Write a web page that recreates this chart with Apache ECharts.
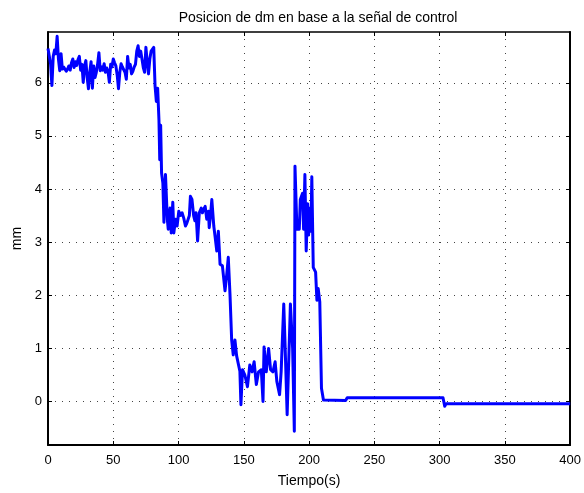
<!DOCTYPE html>
<html>
<head>
<meta charset="utf-8">
<script src="https://cdn.jsdelivr.net/npm/echarts@6/dist/echarts.min.js"></script>
<style>
  html, body { margin: 0; padding: 0; background: #fff; }
  #chart { width: 584px; height: 493px; }
</style>
</head>
<body>
<div id="chart"></div>
<script>
// Sample times (s) of the recorded position trace
const tiempo = [
  0, 1, 2, 3, 4, 5, 6, 7, 8, 9, 10, 11, 12, 13, 14, 15, 16, 17, 18, 19,
  20, 21, 22, 23, 24, 25, 26, 27, 28, 29, 30, 31, 32, 33, 34, 35, 36, 37, 38, 39,
  40, 41, 42, 43, 44, 45, 46, 47, 48, 49, 50, 51, 52, 53, 54, 55, 56, 57, 58, 59,
  60, 61, 62, 63, 64, 65, 66, 67, 68, 69, 70, 71, 72, 73, 74, 75, 76, 77, 78, 79,
  80, 81, 82, 83, 84, 85, 85.6, 86.3, 87, 88, 88.8, 90, 91.4, 92.1, 93.5, 94.4, 95.6, 96.4, 97.7, 98.9,
  100.2, 101.5, 102.7, 104, 105.3, 106.3, 107.3, 108.3, 109.1, 110.3, 111.6, 112.5, 113.4, 114.6, 115.9, 117.4, 118.3, 119.1, 120.4, 121.6,
  122.9, 123.5, 124.5, 125.5, 127, 128, 129.3, 130.5, 131.8, 133.6, 135.6, 137, 138.1, 139.4, 140.7, 141.9, 143.2, 144.5, 145.7, 147,
  147.8, 149, 150.8, 152.8, 154.6, 156.3, 157.9, 159.6, 161.3, 163.4, 164.7, 165.5, 167.2, 169, 170.5, 172.3, 174, 175.3, 177.4, 178.6,
  180.6, 181.7, 183.2, 185.7, 187.4, 188.7, 189.2, 190.7, 192.5, 193.3, 195, 195.8, 196.8, 197.8, 198.9, 199.6, 201, 201.4, 202.1, 203.2,
  205, 206, 207, 208.2, 209.5, 211, 228, 229.2, 302.6, 303.9, 305, 400
];

// Position of dm (mm) at each sample time
const posicion = [
  6.65, 6.62, 6.35, 5.95, 6.50, 6.62, 6.55, 6.88, 6.45, 6.23, 6.55, 6.26, 6.30, 6.27, 6.22, 6.26, 6.32, 6.24, 6.38, 6.45,
  6.29, 6.40, 6.33, 6.44, 6.50, 6.24, 6.35, 6.01, 6.32, 6.42, 6.10, 5.89, 6.20, 6.40, 5.90, 6.32, 6.10, 6.20, 6.35, 6.57,
  6.23, 6.30, 6.24, 6.36, 6.20, 6.28, 6.22, 6.01, 6.35, 6.30, 6.45, 6.38, 6.32, 6.15, 5.89, 6.20, 6.36, 6.30, 6.29, 6.20,
  6.07, 6.50, 6.28, 6.35, 6.17, 6.22, 6.30, 6.35, 6.60, 6.70, 6.50, 6.60, 6.45, 6.29, 6.20, 6.67, 6.40, 6.17, 6.45, 6.60,
  6.62, 6.67, 5.95, 5.65, 5.90, 5.30, 4.55, 5.20, 4.30, 4.11, 3.37, 4.27, 3.43, 3.24, 3.64, 3.17, 3.75, 3.17, 3.43, 3.30,
  3.58, 3.50, 3.55, 3.45, 3.30, 3.35, 3.37, 3.50, 3.86, 3.80, 3.49, 3.40, 3.55, 3.02, 3.55, 3.64, 3.55, 3.61, 3.67, 3.43,
  3.58, 3.27, 3.50, 3.80, 3.30, 3.10, 2.83, 3.20, 2.58, 2.55, 2.08, 2.40, 2.71, 2.02, 1.15, 0.87, 1.15, 0.85, 0.87, 0.56,
  -0.07, 0.59, 0.49, 0.27, 0.68, 0.55, 0.74, 0.31, 0.55, 0.59, -0.01, 1.02, 0.55, 0.99, 0.59, 0.55, 0.74, 0.37, 0.12, 0.55,
  1.83, 0.99, -0.26, 1.83, 0.99, -0.57, 4.43, 3.24, 3.24, 3.80, 3.92, 3.24, 4.27, 2.83, 3.72, 3.13, 3.64, 3.20, 4.23, 2.52,
  2.43, 1.90, 2.12, 1.87, 0.24, 0.02, 0.01, 0.06, 0.06, -0.10, -0.05, -0.05
];

// Axis ticks
const xTicks = [0, 50, 100, 150, 200, 250, 300, 350, 400];
const yTicks = [0, 1, 2, 3, 4, 5, 6];
const yRange = [-0.83, 6.96];

const FONT = 'Liberation Sans, Arial, Helvetica, sans-serif';
const gridDots = { color: '#444', width: 1, type: [1, 6] };

const chart = echarts.init(document.getElementById('chart'), null, { renderer: 'canvas' });

chart.setOption({
  animation: false,
  backgroundColor: '#fff',
  textStyle: { fontFamily: FONT },
  title: {
    text: 'Posicion de dm en base a la señal de control',
    left: 313,
    top: 6,
    textAlign: 'center',
    textStyle: { fontFamily: FONT, fontSize: 14, fontWeight: 'normal', color: '#000' }
  },
  grid: { left: 48, right: 11, top: 32, bottom: 46, containLabel: false },
  xAxis: [
    {
      type: 'value', position: 'bottom', min: xTicks[0], max: xTicks[xTicks.length - 1], interval: 50,
      name: 'Tiempo(s)', nameLocation: 'middle', nameGap: 29,
      nameTextStyle: { fontFamily: FONT, fontSize: 14, color: '#000' },
      axisLine: { show: true, onZero: false, lineStyle: { color: '#000', width: 2 } },
      axisTick: { show: true, inside: true, length: 4, lineStyle: { color: '#000', width: 1 } },
      axisLabel: { fontFamily: FONT, fontSize: 13, color: '#000', margin: 9 },
      splitLine: { show: true, lineStyle: gridDots }
    },
    {
      type: 'value', position: 'top', min: xTicks[0], max: xTicks[xTicks.length - 1], interval: 50,
      axisLine: { show: true, onZero: false, lineStyle: { color: '#000', width: 1.5 } },
      axisTick: { show: true, inside: true, length: 4, lineStyle: { color: '#000', width: 1 } },
      axisLabel: { show: false },
      splitLine: { show: false }
    }
  ],
  yAxis: [
    {
      type: 'value', position: 'left', min: yRange[0], max: yRange[1],
      name: 'mm', nameLocation: 'middle', nameGap: 22, nameRotate: 90,
      nameTextStyle: { fontFamily: FONT, fontSize: 14, color: '#000' },
      axisLine: { show: true, onZero: false, lineStyle: { color: '#000', width: 2 } },
      axisTick: { show: true, inside: true, length: 4, customValues: yTicks, lineStyle: { color: '#000', width: 1 } },
      axisLabel: { fontFamily: FONT, fontSize: 13, color: '#000', margin: 6, customValues: yTicks },
      splitLine: { show: true, lineStyle: gridDots }
    },
    {
      type: 'value', position: 'right', min: yRange[0], max: yRange[1],
      axisLine: { show: true, onZero: false, lineStyle: { color: '#000', width: 2 } },
      axisTick: { show: true, inside: true, length: 4, customValues: yTicks, lineStyle: { color: '#000', width: 1 } },
      axisLabel: { show: false },
      splitLine: { show: false }
    }
  ],
  series: [
    {
      type: 'line',
      xAxisIndex: 0,
      yAxisIndex: 0,
      data: tiempo.map((t, i) => [t, posicion[i]]),
      showSymbol: false,
      symbol: 'none',
      smooth: false,
      lineStyle: { color: '#0000ff', width: 3, join: 'round' },
      z: 3
    }
  ]
});
</script>
</body>
</html>
